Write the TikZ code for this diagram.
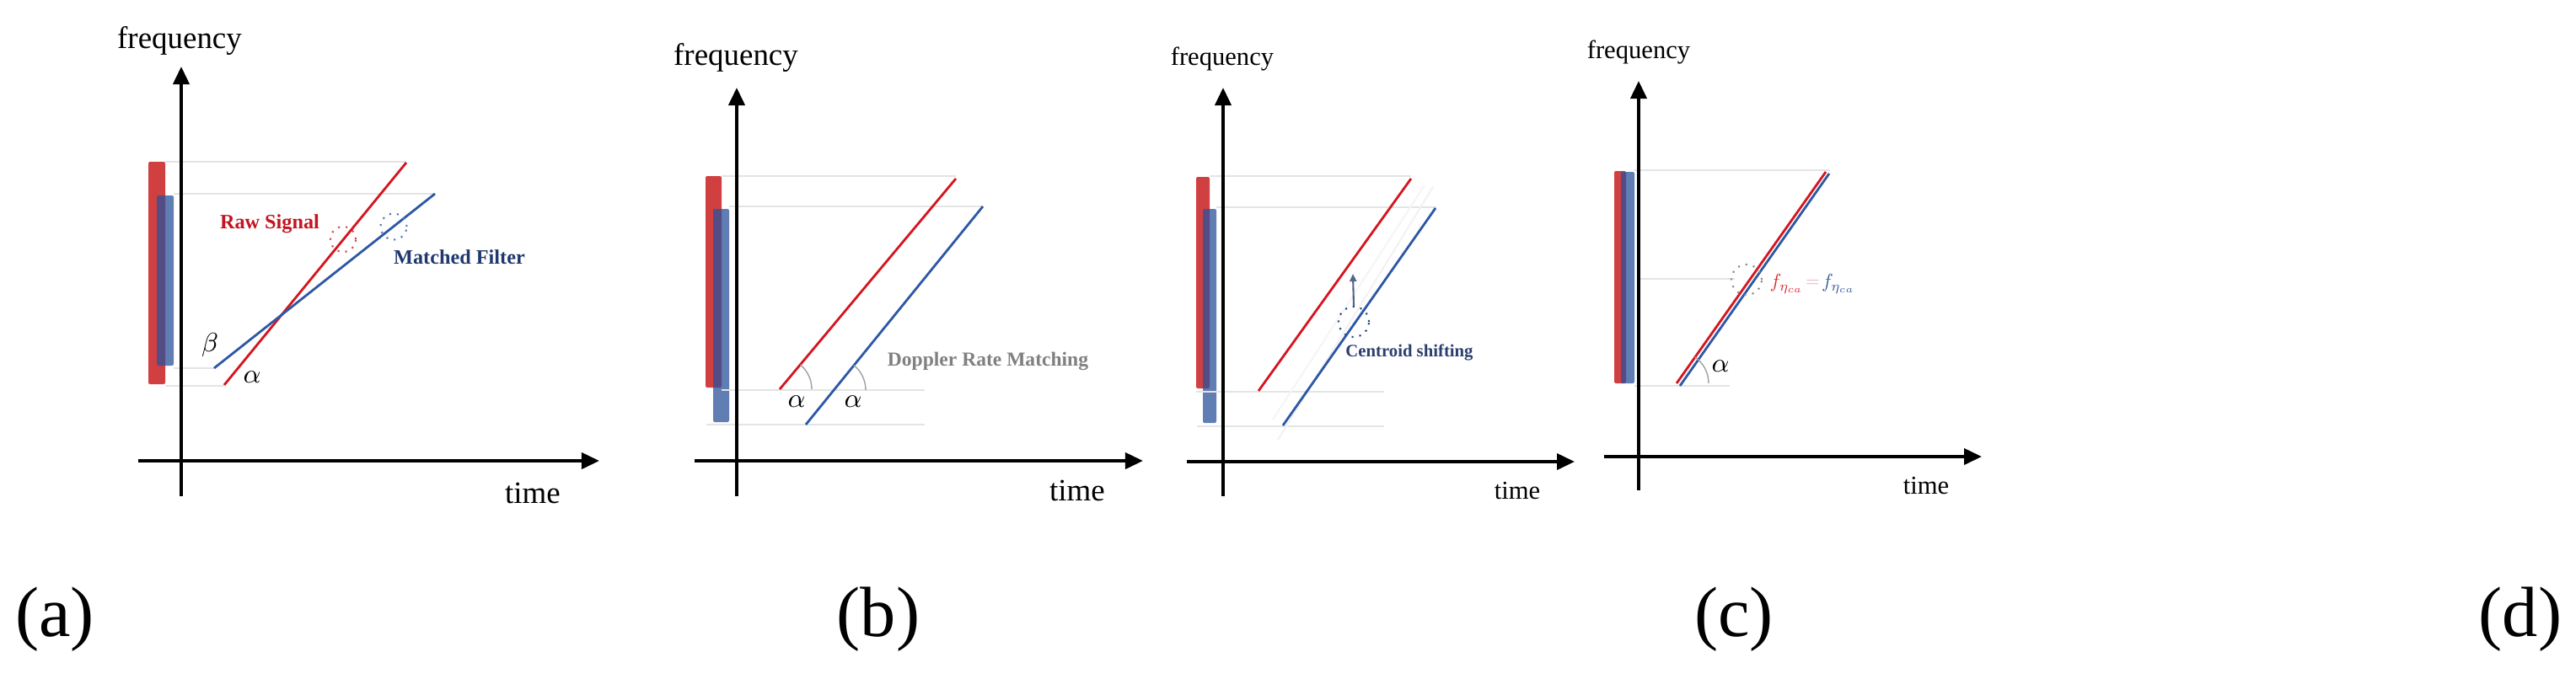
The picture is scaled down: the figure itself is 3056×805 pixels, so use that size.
\documentclass[tikz,border=0pt]{standalone}
\usepackage{fontspec}
\setmainfont{Liberation Serif}
\usetikzlibrary{arrows.meta}
\definecolor{sigred}{RGB}{212,22,32}
\definecolor{sigblue}{RGB}{45,88,165}
\definecolor{barred}{RGB}{208,64,64}
\definecolor{barblue}{RGB}{43,81,155}
\definecolor{guidegray}{RGB}{228,228,228}
\definecolor{arcgray}{RGB}{160,160,160}
\definecolor{mfnavy}{RGB}{31,56,110}
\definecolor{rawred}{RGB}{195,20,32}
\definecolor{ctrblue}{RGB}{43,63,110}
\definecolor{dopgray}{RGB}{128,128,128}
\definecolor{eqpink}{RGB}{240,160,168}
\definecolor{fred}{RGB}{215,45,55}
\definecolor{fblue}{RGB}{60,90,155}
\begin{document}
\begin{tikzpicture}[x=0.01cm,y=-0.01cm,
  axis/.style={line width=1.1pt,-{Triangle[length=0.21cm,width=0.19cm]}},
  guide/.style={draw=guidegray,line width=0.7pt},
  redsig/.style={draw=sigred,line width=0.8pt},
  bluesig/.style={draw=sigblue,line width=0.8pt},
  redbar/.style={fill=barred,rounded corners=0.02cm},
  bluebar/.style={fill=barblue,fill opacity=0.75,rounded corners=0.02cm},
  anglearc/.style={draw=arcgray,line width=0.4pt},
  txt/.style={inner sep=0pt,anchor=center},
  bigax/.style={txt,font=\fontsize{10.5}{12}\selectfont},
  smallax/.style={txt,font=\fontsize{8.7}{10}\selectfont},
  legend/.style={txt,font=\bfseries\fontsize{6.9}{8}\selectfont},
  greek/.style={txt},
  fterm/.style={txt},
  panellabel/.style={txt,font=\fontsize{24}{28}\selectfont},
  dotcircle/.style={dotted,line width=0.6pt}
]
\useasboundingbox (0,0) rectangle (3056,805);

% ================= panel (a) =================
\coordinate (a-yb) at (215,589); \coordinate (a-yt) at (215,79);
\coordinate (a-xl) at (164,547); \coordinate (a-xr) at (711,547);
\path[redbar] (176,192) rectangle (196,456);
\path[bluebar] (186,232) rectangle (206,434);
\coordinate (a-g1l) at (196,192); \coordinate (a-g1r) at (482,192);
\coordinate (a-g2l) at (206,230); \coordinate (a-g2r) at (516,230);
\coordinate (a-g3l) at (206,437); \coordinate (a-g3r) at (254,437);
\coordinate (a-g4l) at (196,458); \coordinate (a-g4r) at (266,458);
\draw[guide] (a-g1l) -- (a-g1r);
\draw[guide] (a-g2l) -- (a-g2r);
\draw[guide] (a-g3l) -- (a-g3r);
\draw[guide] (a-g4l) -- (a-g4r);
\draw[axis] (a-yb) -- (a-yt);
\draw[axis] (a-xl) -- (a-xr);
\coordinate (a-r0) at (266,457); \coordinate (a-r1) at (482,193);
\coordinate (a-b0) at (254,437); \coordinate (a-b1) at (516,230);
\draw[redsig] (a-r0) -- (a-r1);
\draw[bluesig] (a-b0) -- (a-b1);
\node[draw=sigred!80,dotcircle,circle,minimum size=0.3cm,inner sep=0pt] (a-rc) at (407,284) {};
\node[draw=sigblue!80,dotcircle,circle,minimum size=0.31cm,inner sep=0pt] (a-bc) at (467,269) {};
\node[legend,text=rawred] (a-raw) at (320,266) {Raw Signal};
\node[legend,text=mfnavy] (a-mf) at (545,305) {Matched Filter};
\node[greek] (a-beta) at (249,410) {\fontsize{9}{10}\selectfont$\beta$};
\node[greek] (a-alpha) at (299,448) {\fontsize{9}{10}\selectfont$\alpha$};
\node[bigax] (a-freq) at (213,48) {frequency};
\node[bigax] (a-time) at (632,585) {time};

% ================= panel (b) =================
\coordinate (b-yb) at (874,589); \coordinate (b-yt) at (874,104);
\coordinate (b-xl) at (824,547); \coordinate (b-xr) at (1356,547);
\path[redbar] (837,209) rectangle (856,460);
\path[bluebar] (846,248) rectangle (865,501);
\coordinate (b-g1l) at (856,209); \coordinate (b-g1r) at (1134,209);
\coordinate (b-g2l) at (865,245); \coordinate (b-g2r) at (1166,245);
\coordinate (b-g3l) at (856,463); \coordinate (b-g3r) at (1097,463);
\coordinate (b-g4l) at (838,504); \coordinate (b-g4r) at (1097,504);
\draw[guide] (b-g1l) -- (b-g1r);
\draw[guide] (b-g2l) -- (b-g2r);
\draw[guide] (b-g3l) -- (b-g3r);
\draw[guide] (b-g4l) -- (b-g4r);
\draw[axis] (b-yb) -- (b-yt);
\draw[axis] (b-xl) -- (b-xr);
\coordinate (b-r0) at (925,462); \coordinate (b-r1) at (1134,212);
\coordinate (b-b0) at (956,504); \coordinate (b-b1) at (1166,245);
\draw[redsig] (b-r0) -- (b-r1);
\draw[bluesig] (b-b0) -- (b-b1);
\draw[anglearc] (b-r0) ++(38,0) arc[start angle=0,end angle=-50,radius=38];
\coordinate (b-bx) at (989,463);
\draw[anglearc] (b-bx) ++(38,0) arc[start angle=0,end angle=-51,radius=38];
\node[greek] (b-alpha1) at (945,477) {\fontsize{9}{10}\selectfont$\alpha$};
\node[greek] (b-alpha2) at (1012,477) {\fontsize{9}{10}\selectfont$\alpha$};
\node[legend,text=dopgray,font=\bfseries\fontsize{6.7}{8}\selectfont] (b-dop) at (1172,429) {Doppler Rate Matching};
\node[bigax] (b-freq) at (873,68) {frequency};
\node[bigax] (b-time) at (1278,582) {time};

% ================= panel (c) =================
\coordinate (c-yb) at (1451,589); \coordinate (c-yt) at (1451,104);
\coordinate (c-xl) at (1408,548); \coordinate (c-xr) at (1868,548);
\path[redbar] (1419,210) rectangle (1435,461);
\path[bluebar] (1427,248) rectangle (1443,502);
\coordinate (c-g1l) at (1435,209); \coordinate (c-g1r) at (1674,209);
\coordinate (c-g2l) at (1443,246); \coordinate (c-g2r) at (1704,246);
\coordinate (c-g3l) at (1419,465); \coordinate (c-g3r) at (1642,465);
\coordinate (c-g4l) at (1420,506); \coordinate (c-g4r) at (1642,506);
\draw[guide] (c-g1l) -- (c-g1r);
\draw[guide] (c-g2l) -- (c-g2r);
\draw[guide] (c-g3l) -- (c-g3r);
\draw[guide] (c-g4l) -- (c-g4r);
\coordinate (c-h0) at (1516,522); \coordinate (c-h1) at (1700,222);
\coordinate (c-k0) at (1510,498); \coordinate (c-k1) at (1690,220);
\draw[draw=black!5,line width=0.6pt] (c-h0) -- (c-h1);
\draw[draw=black!4,line width=0.6pt] (c-k0) -- (c-k1);
\draw[axis] (c-yb) -- (c-yt);
\draw[axis] (c-xl) -- (c-xr);
\coordinate (c-r0) at (1493,464); \coordinate (c-r1) at (1674,212);
\coordinate (c-b0) at (1522,505); \coordinate (c-b1) at (1703,247);
\draw[redsig] (c-r0) -- (c-r1);
\draw[bluesig] (c-b0) -- (c-b1);
\node[draw=sigblue!85!black,dotcircle,circle,minimum size=0.36cm,inner sep=0pt] (c-cc) at (1606,382) {};
\coordinate (c-tip) at (1605,325);
\draw[draw=ctrblue!80,line width=0.6pt,-{Triangle[length=0.09cm,width=0.08cm]}] (c-cc.north) -- (c-tip);
\node[legend,text=ctrblue,font=\bfseries\fontsize{5.9}{7}\selectfont] (c-cs) at (1672,418) {Centroid shifting};
\node[smallax] (c-freq) at (1450,70) {frequency};
\node[smallax] (c-time) at (1800,583) {time};

% ================= panel (d) =================
\coordinate (d-yb) at (1944,582); \coordinate (d-yt) at (1944,96);
\coordinate (d-xl) at (1903,542); \coordinate (d-xr) at (2351,542);
\path[redbar] (1915,203) rectangle (1929,455);
\path[bluebar] (1923,204) rectangle (1939,455);
\coordinate (d-g1l) at (1939,202); \coordinate (d-g1r) at (2171,202);
\coordinate (d-g2l) at (1944,331); \coordinate (d-g2r) at (2058,331);
\coordinate (d-g3l) at (1939,458); \coordinate (d-g3r) at (2052,458);
\draw[guide] (d-g1l) -- (d-g1r);
\draw[guide] (d-g2l) -- (d-g2r);
\draw[guide] (d-g3l) -- (d-g3r);
\draw[axis] (d-yb) -- (d-yt);
\draw[axis] (d-xl) -- (d-xr);
\coordinate (d-b0) at (1993,458); \coordinate (d-b1) at (2170,206);
\coordinate (d-r0) at (1989,455); \coordinate (d-r1) at (2166,204);
\draw[bluesig] (d-b0) -- (d-b1);
\draw[redsig] (d-r0) -- (d-r1);
\draw[anglearc] (d-r0) ++(38,0) arc[start angle=0,end angle=-55,radius=38];
\node[draw=black!45,dotcircle,circle,minimum size=0.36cm,inner sep=0pt] (d-cc) at (2072,332) {};
\node[fterm,text=fred,anchor=west] (d-f1) at (2099,337) {\scalebox{0.66}{\fontsize{10}{12}\selectfont$f_{\eta_{ca}}$}};
\node[fterm,text=eqpink,anchor=west] (d-eq) at (d-f1.east) {\scalebox{0.6}{\fontsize{10}{12}\selectfont$\mkern1mu{=}\mkern1mu$}};
\node[fterm,text=fblue,anchor=west] (d-f2) at (d-eq.east) {\scalebox{0.66}{\fontsize{10}{12}\selectfont$f_{\eta_{ca}}$}};
\node[greek] (d-alpha) at (2041,435) {\fontsize{9}{10}\selectfont$\alpha$};
\node[smallax] (d-freq) at (1944,62) {frequency};
\node[smallax] (d-time) at (2285,577) {time};

% ================= panel labels =================
\node[panellabel] (lab-a) at (65,735) {(a)};
\node[panellabel] (lab-b) at (1042,735) {(b)};
\node[panellabel] (lab-c) at (2057,735) {(c)};
\node[panellabel] (lab-d) at (2990,735) {(d)};
\end{tikzpicture}
\end{document}
